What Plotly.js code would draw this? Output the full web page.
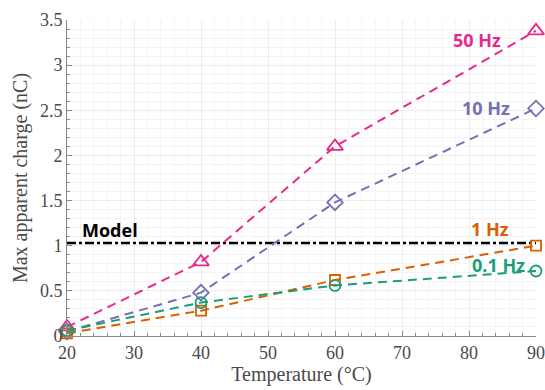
<!DOCTYPE html>
<html><head><meta charset="utf-8">
<script src="https://cdn.plot.ly/plotly-3.0.1.min.js"></script>
<style>html,body{margin:0;padding:0;background:#fff}#chart{width:545px;height:390px}</style>
</head><body><div id="chart"></div>
<script>
const temps = [20, 40, 60, 90];
const hz50 = [0.10, 0.82, 2.10, 3.38];
const hz10 = [0.05, 0.48, 1.48, 2.52];
const hz1 = [0.03, 0.28, 0.62, 1.00];
const hz01 = [0.06, 0.37, 0.56, 0.72];
const modelX = [20, 90];
const modelY = [1.03, 1.03];
const seriesNames = ['50 Hz', '10 Hz', '1 Hz', '0.1 Hz'];

const colors = ['#e7298a', '#7570b3', '#d95f02', '#1b9e77'];
const symbols = ['triangle-up-open', 'diamond-open', 'square-open', 'circle-open'];
const sizes = [14, 12, 10, 11];
const vals = [hz50, hz10, hz1, hz01];

const traces = [{
  x: modelX, y: modelY, mode: 'lines', name: 'Model',
  line: {color: '#000', width: 2.5, dash: '9px,3px,3px,3px'}, hoverinfo: 'skip'
}];
vals.forEach((v, i) => traces.push({
  x: temps, y: v, mode: 'lines+markers', name: seriesNames[i], cliponaxis: false,
  line: {color: colors[i], width: 2, dash: '9px,6px'},
  marker: {symbol: symbols[i], size: sizes[i], color: colors[i], line: {width: 1.8, color: colors[i]}}
}));

const lab = (text, x, y, color) => ({
  text: '<b>' + text + '</b>', x: x, y: y, xref: 'x', yref: 'y', showarrow: false,
  font: {family: 'Open Sans, Liberation Sans, sans-serif', size: 18, color: color}
});

const tf = {size: 18, family: 'Liberation Serif, serif', color: '#4a4a4a'};
const layout = {
  width: 545, height: 390,
  margin: {l: 67, r: 9, t: 20, b: 54},
  paper_bgcolor: '#fff', plot_bgcolor: '#fff',
  showlegend: false,
  font: {family: 'Liberation Serif, serif', color: '#444'},
  xaxis: {
    range: [20, 90], tickvals: [20, 30, 40, 50, 60, 70, 80, 90],
    tickfont: tf,
    showgrid: true, gridcolor: '#ececec', gridwidth: 1,
    minor: {dtick: 2, showgrid: true, gridcolor: '#f4f4f4', ticks: 'inside', ticklen: 3, tickcolor: '#888'},
    showline: true, linecolor: '#888', linewidth: 1,
    ticks: 'inside', ticklen: 5, tickcolor: '#888', zeroline: false,
    title: {text: 'Temperature (°C)', font: {size: 20, family: 'Liberation Serif, serif', color: '#4a4a4a'}, standoff: 4}
  },
  yaxis: {
    range: [0, 3.5], tickvals: [0, 0.5, 1, 1.5, 2, 2.5, 3, 3.5],
    ticktext: ['0', '0.5', '1', '1.5', '2', '2.5', '3', '3.5'],
    tickfont: tf,
    showgrid: true, gridcolor: '#ececec', gridwidth: 1,
    minor: {dtick: 0.1, showgrid: true, gridcolor: '#f4f4f4', ticks: 'inside', ticklen: 3, tickcolor: '#888'},
    showline: true, linecolor: '#888', linewidth: 1,
    ticks: 'inside', ticklen: 5, tickcolor: '#888', zeroline: false,
    title: {text: 'Max apparent charge (nC)', font: {size: 20, family: 'Liberation Serif, serif', color: '#4a4a4a'}, standoff: 6}
  },
  annotations: [
    lab('50 Hz', 81.2, 3.28, colors[0]),
    lab('10 Hz', 82.6, 2.52, colors[1]),
    lab('1 Hz', 83.2, 1.19, colors[2]),
    lab('0.1 Hz', 84.4, 0.79, colors[3]),
    lab('Model', 26.4, 1.17, '#000')
  ]
};
Plotly.newPlot('chart', traces, layout, {displayModeBar: false, staticPlot: true});
</script></body></html>
